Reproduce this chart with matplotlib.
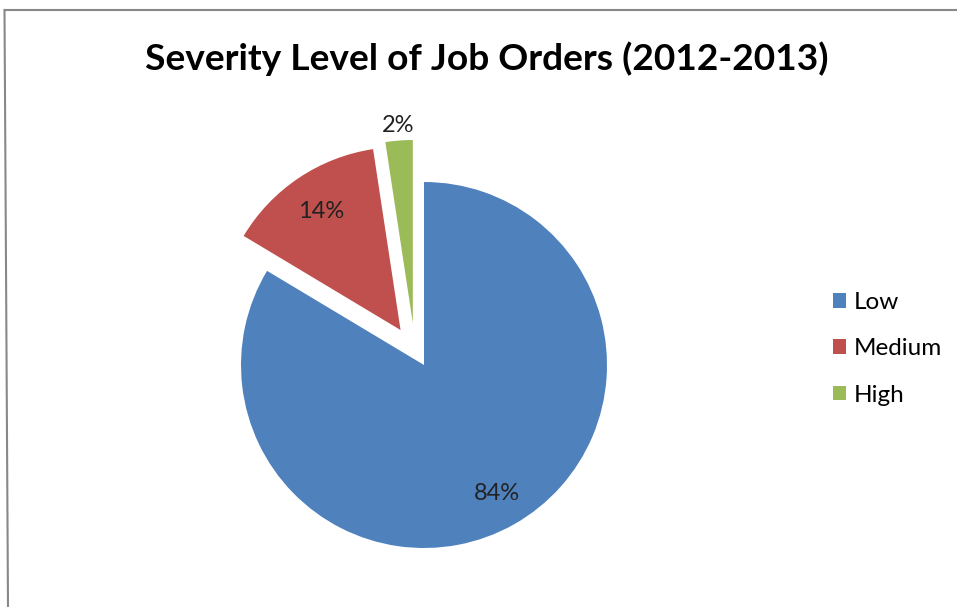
import numpy as np
import matplotlib
matplotlib.use("Agg")
import matplotlib.pyplot as plt
from matplotlib.lines import Line2D

categories = ["Low", "Medium", "High"]
values = [83.6, 14.0, 2.4]
colors = ["#4F81BD", "#C0504D", "#9BBB59"]
explode = [0.0, 0.23, 0.23]
title = "Severity Level of Job Orders (2012-2013)"

W, H = 957, 607
fig = plt.figure(figsize=(W / 100, H / 100), dpi=100)
fig.patch.set_facecolor("white")

R = 183.0
cx, cy = 424.0, H - 365.0
half = 1.3 * R
ax = fig.add_axes([(cx - half) / W, (cy - half) / H, 2 * half / W, 2 * half / H])

wedges, texts, autotexts = ax.pie(
    values, colors=colors, explode=explode, startangle=90, counterclock=False,
    autopct="%1.0f%%", pctdistance=0.8,
    wedgeprops=dict(linewidth=0),
    textprops=dict(family="Lato", fontsize=17, color="#222222"),
)
ax.set_xlim(-1.3, 1.3)
ax.set_ylim(-1.3, 1.3)
ax.set_aspect("auto")

# small sideways nudge of the thin slice, as in the original rendering
c = wedges[2].center
wedges[2].set_center((c[0] - 8 / R, c[1]))

# label distances per slice
dists = [0.81, 0.78, 1.085]
for w, t, d in zip(wedges, autotexts, dists):
    ang = np.deg2rad((w.theta1 + w.theta2) / 2)
    c = w.center
    t.set_position((c[0] + d * np.cos(ang), c[1] + d * np.sin(ang)))
    t.set_ha("center"); t.set_va("center")

fig.text(487 / W, 1 - 59 / H, title, ha="center", va="center",
         family="Lato", fontweight="bold", fontsize=26.7, color="black")

fig.legend(wedges, categories, loc="upper left",
           bbox_to_anchor=(833 / W, 1 - 292 / H), frameon=False, borderpad=0,
           borderaxespad=0,
           prop=dict(family="Lato", size=17.5), handlelength=0.55, handleheight=0.55,
           handletextpad=0.3, labelspacing=1.04)

# chart frame
fig.add_artist(Line2D([4.5 / W, 1.0], [1 - 10 / H, 1 - 10 / H], color="#888888", lw=1.5,
                      transform=fig.transFigure))
fig.add_artist(Line2D([4.5 / W, 8 / W], [1 - 10 / H, 0.0], color="#888888", lw=1.5,
                      transform=fig.transFigure))

fig.savefig("out.png", dpi=100)
